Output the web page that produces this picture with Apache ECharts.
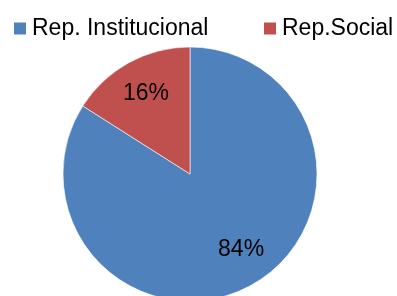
<!DOCTYPE html>
<html>
<head>
<meta charset="utf-8">
<script src="https://cdn.jsdelivr.net/npm/echarts@6/dist/echarts.min.js"></script>
<style>
html,body{margin:0;padding:0;background:#fff;}
#chart{width:397px;height:296px;}
</style>
</head>
<body>
<div id="chart"></div>
<script>
// datos del grafico
var categories = ['Rep. Institucional', 'Rep.Social'];
var values = [84, 16];
var colors = ['#4F81BD', '#C0504D'];
var labelOffsets = [[7, -5], [0, 0]];  // ajuste fino de etiquetas
var legendLeft = [12, 262];

var pieData = categories.map(function (name, i) {
    return {name: name, value: values[i], itemStyle: {color: colors[i]}};
});

// una leyenda por categoria para fijar la posicion
var legends = categories.map(function (name, i) {
    return {
        data: [name],
        left: legendLeft[i],
        top: 17,
        padding: 0,
        icon: 'rect',
        itemWidth: 14,
        itemHeight: 14,
        textStyle: {
            fontFamily: 'Liberation Sans',
            fontSize: 23,
            color: '#000'
        }
    };
});

var myChart = echarts.init(document.getElementById('chart'));
myChart.setOption({
    animation: false,
    legend: legends,
    series: [
        {
            // pastel
            type: 'pie',
            center: [190, 174],
            radius: [0, 127],
            startAngle: 90,
            clockwise: true,
            data: pieData,
            label: {show: false},
            labelLine: {show: false},
            itemStyle: {borderColor: '#ffffff', borderWidth: 0.6}
        },
        {
            // capa invisible solo para las etiquetas
            type: 'pie',
            center: [190, 174],
            radius: [50, 127],
            startAngle: 90,
            silent: true,
            legendHoverLink: false,
            data: categories.map(function (name, i) {
                return {name: name, value: values[i], label: {offset: labelOffsets[i]}};
            }),
            itemStyle: {color: 'rgba(0,0,0,0)'},
            label: {
                show: true,
                position: 'inside',
                formatter: '{d}%',
                fontFamily: 'Liberation Sans',
                fontSize: 23,
                color: '#000'
            },
            labelLine: {show: false}
        }
    ]
});
</script>
</body>
</html>
